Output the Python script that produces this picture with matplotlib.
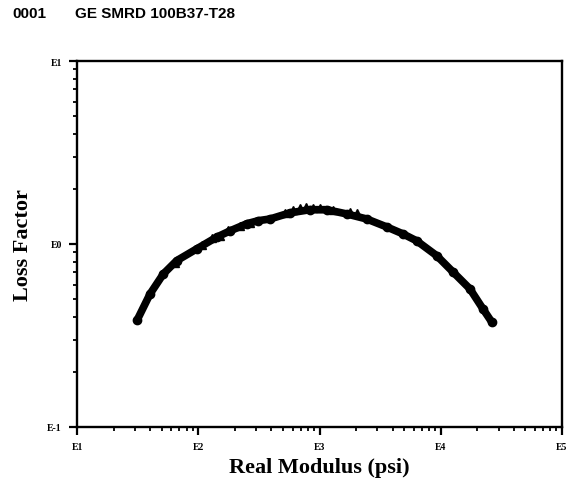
import matplotlib
matplotlib.use("Agg")
import matplotlib.pyplot as plt
from matplotlib.ticker import LogLocator, FixedLocator, FixedFormatter, NullFormatter

# Main measured curve (Real modulus psi, loss factor)
modulus_main = [31.4, 40.0, 51.5, 66.4, 97.0, 142, 183, 251, 311, 391, 571, 836,
                1146, 1675, 2449, 3581, 4887, 6339, 9268, 12620, 17420, 22280, 26300]
loss_main = [0.385, 0.533, 0.686, 0.811, 0.940, 1.09, 1.18, 1.29, 1.34, 1.37, 1.48, 1.54,
             1.54, 1.46, 1.37, 1.24, 1.135, 1.04, 0.863, 0.703, 0.568, 0.442, 0.375]

# Scattered upper points (second temperature set)
modulus_upper = [64.3, 106.6, 129, 151, 176, 221, 267, 519, 604, 690, 774, 884, 1009, 1292, 1786, 2028]
loss_upper = [0.787, 0.993, 1.08, 1.11, 1.20, 1.25, 1.30, 1.48, 1.54, 1.58, 1.60, 1.58, 1.58, 1.54, 1.50, 1.48]

x_tick_vals = [1e1, 1e2, 1e3, 1e4, 1e5]
x_tick_labels = ["E1", "E2", "E3", "E4", "E5"]
y_tick_vals = [1e-1, 1e0, 1e1]
y_tick_labels = ["E-1", "E0", "E1"]

serif = ["Liberation Serif", "DejaVu Serif"]
sans = ["Liberation Sans", "DejaVu Sans"]

fig = plt.figure(figsize=(5.73, 4.81), dpi=100)
ax = fig.add_axes([0.1344, 0.1102, 0.8464, 0.7609])

ax.plot(modulus_main, loss_main, color="black", lw=5.5, marker="o", ms=6,
        solid_capstyle="round", solid_joinstyle="round", zorder=3)
ax.plot(modulus_upper, loss_upper, color="black", lw=0, marker="^", ms=5.5, zorder=3)

ax.set_xscale("log")
ax.set_yscale("log")
ax.set_xlim(1e1, 1e5)
ax.set_ylim(1e-1, 1e1)

ax.xaxis.set_major_locator(FixedLocator(x_tick_vals))
ax.xaxis.set_major_formatter(FixedFormatter(x_tick_labels))
ax.yaxis.set_major_locator(FixedLocator(y_tick_vals))
ax.yaxis.set_major_formatter(FixedFormatter(y_tick_labels))
ax.xaxis.set_minor_locator(LogLocator(base=10, subs=range(2, 10), numticks=20))
ax.yaxis.set_minor_locator(LogLocator(base=10, subs=range(2, 10), numticks=20))
ax.xaxis.set_minor_formatter(NullFormatter())
ax.yaxis.set_minor_formatter(NullFormatter())

ax.tick_params(axis="both", which="major", direction="out", length=6, width=1.6,
               labelsize=7, top=False, right=False, pad=5)
ax.tick_params(axis="both", which="minor", direction="out", length=3, width=1.3,
               top=False, right=False)
for lab in ax.get_xticklabels() + ax.get_yticklabels():
    lab.set_fontfamily(serif)
    lab.set_fontweight("bold")

for sp in ax.spines.values():
    sp.set_linewidth(1.7)
    sp.set_color("black")

ax.set_xlabel("Real Modulus (psi)", fontsize=16, fontweight="bold", family=serif)
ax.set_ylabel("Loss Factor", fontsize=16, fontweight="bold", family=serif)
ax.xaxis.set_label_coords(0.5, -0.082)
ax.yaxis.set_label_coords(-0.09, 0.5)

fig.text(0.021, 0.97, "0001", fontsize=11, fontweight="bold", family=sans, va="center")
fig.text(0.131, 0.97, "GE SMRD 100B37-T28", fontsize=11, fontweight="bold", family=sans, va="center")

fig.savefig("out.png", dpi=100, facecolor="white")
